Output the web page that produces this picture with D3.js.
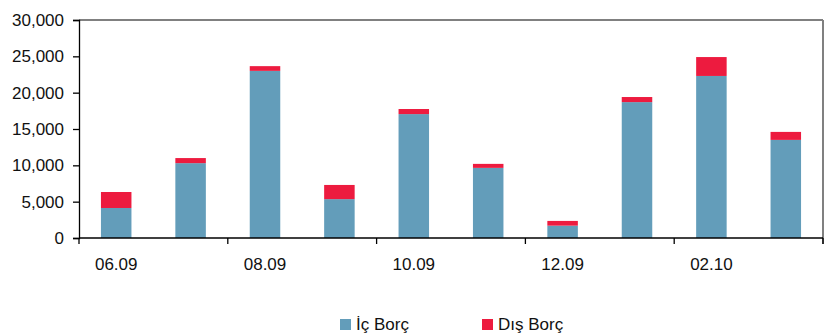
<!DOCTYPE html>
<html>
<head>
<meta charset="utf-8">
<script src="https://cdn.jsdelivr.net/npm/d3@7"></script>
<style>
  html, body { margin: 0; padding: 0; background: #fff; }
  svg { display: block; font-family: "Liberation Sans", Arial, sans-serif; }
</style>
</head>
<body>
<svg id="chart" width="826" height="333"></svg>
<script>
// Monthly borrowing, domestic vs. foreign (stacked)
const periods = ["06.09", "07.09", "08.09", "09.09", "10.09", "11.09", "12.09", "01.10", "02.10", "03.10"];
const icBorc  = [4130, 10300, 23000, 5350, 17050, 9650, 1700, 18700, 22300, 13500];
const disBorc = [2200, 700, 650, 1950, 700, 550, 650, 700, 2600, 1100];
const periodLabels = ["06.09", "08.09", "10.09", "12.09", "02.10"];
const yTicks = [0, 5000, 10000, 15000, 20000, 25000, 30000];
const seriesNames = ["İç Borç", "Dış Borç"];
const seriesColors = ["#639dba", "#ed1b3f"];

const svg = d3.select("#chart");
const margin = { left: 79, right: 3, top: 20, bottom: 95 };
const W = 826, H = 333;
const x0 = margin.left, x1 = W - margin.right;
const y0 = H - margin.bottom, y1 = margin.top;
const fontSize = 17;

const x = d3.scaleBand().domain(periods).range([x0, x1]).paddingInner(0.59).paddingOuter(0.295);
const y = d3.scaleLinear().domain([0, 30000]).range([y0, y1]);

const rows = periods.map((p, i) => ({ period: p, ic: icBorc[i], dis: disBorc[i] }));
const stack = d3.stack().keys(["ic", "dis"])(rows);

// plot frame: grey top and right edges
svg.append("line").attr("x1", x0).attr("x2", x1).attr("y1", y1).attr("y2", y1)
  .attr("stroke", "#808080").attr("stroke-width", 2);
svg.append("line").attr("x1", x1).attr("x2", x1).attr("y1", y1).attr("y2", y0 + 6)
  .attr("stroke", "#808080").attr("stroke-width", 2);

// bars
svg.append("g").selectAll("g").data(stack).join("g")
  .attr("fill", (d, i) => seriesColors[i])
  .selectAll("rect").data(d => d).join("rect")
  .attr("x", d => x(d.data.period))
  .attr("width", x.bandwidth())
  .attr("y", d => y(d[1]))
  .attr("height", d => y(d[0]) - y(d[1]));

// y axis
const yAxis = svg.append("g").attr("transform", `translate(${x0},0)`)
  .call(d3.axisLeft(y).tickValues(yTicks).tickSize(6).tickPadding(9)
    .tickFormat(d3.format(",")));
yAxis.select(".domain").attr("stroke", "#000").attr("stroke-width", 1.3);
yAxis.selectAll(".tick line").attr("stroke", "#000").attr("stroke-width", 1.3);
yAxis.selectAll("text").attr("font-size", fontSize).attr("fill", "#111")
  .attr("font-family", "Liberation Sans, Arial, sans-serif");

// x axis: ticks every two periods, labels under the first bar of each pair
const step = x.step();
const tickPos = d3.range(0, periods.length + 1, 2).map(i => x0 + i * step);
const xg = svg.append("g");
xg.append("line").attr("x1", x0).attr("x2", x1).attr("y1", y0).attr("y2", y0)
  .attr("stroke", "#000").attr("stroke-width", 1.3);
xg.selectAll("line.tk").data(tickPos).join("line").attr("class", "tk")
  .attr("x1", d => d).attr("x2", d => d).attr("y1", y0).attr("y2", y0 + 6)
  .attr("stroke", "#000").attr("stroke-width", 1.3);
xg.selectAll("text").data(periodLabels).join("text")
  .attr("x", d => x(d) + x.bandwidth() / 2)
  .attr("y", y0 + 32)
  .attr("text-anchor", "middle")
  .attr("font-size", fontSize).attr("fill", "#111")
  .text(d => d);

// legend
const legend = svg.append("g");
const legendX = [340, 482];
seriesNames.forEach((name, i) => {
  legend.append("rect").attr("x", legendX[i]).attr("y", 319).attr("width", 11).attr("height", 11)
    .attr("fill", seriesColors[i]);
  legend.append("text").attr("x", legendX[i] + 16).attr("y", 330)
    .attr("font-size", fontSize).attr("fill", "#111").text(name);
});
</script>
</body>
</html>
